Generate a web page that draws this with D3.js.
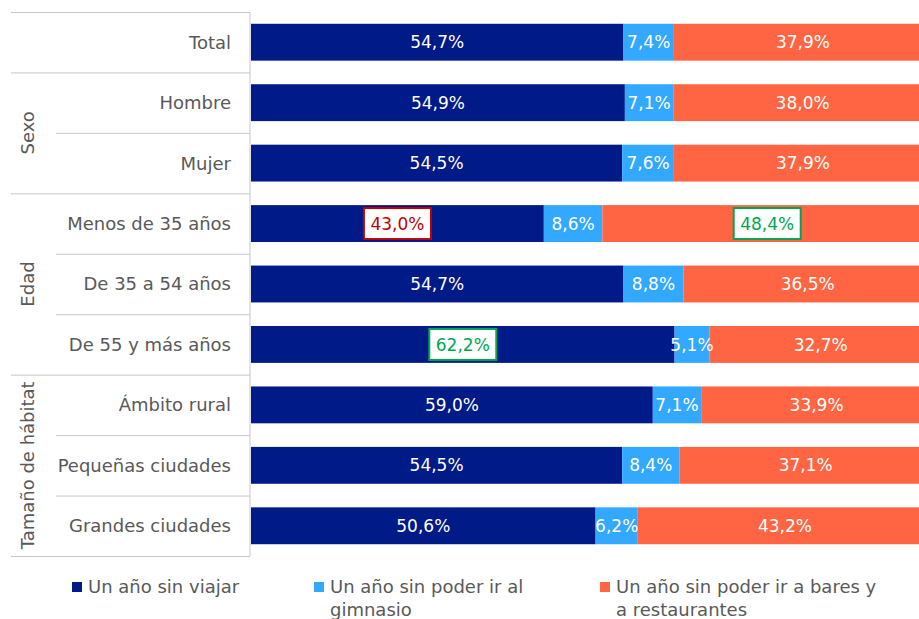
<!DOCTYPE html>
<html><head><meta charset="utf-8">
<script src="https://cdn.jsdelivr.net/npm/d3@7"></script>
<style>body{margin:0;background:#fff}svg{display:block}text{font-family:"DejaVu Sans",Verdana,sans-serif}</style>
</head><body><svg id="c" width="919" height="619"></svg>
<script>
const categories = ["Total","Hombre","Mujer","Menos de 35 años","De 35 a 54 años","De 55 y más años","Ámbito rural","Pequeñas ciudades","Grandes ciudades"];
const groups = [
  {name:"", from:0, to:0},
  {name:"Sexo", from:1, to:2},
  {name:"Edad", from:3, to:5},
  {name:"Tamaño de hábitat", from:6, to:8}
];
const seriesNames = ["Un año sin viajar","Un año sin poder ir al gimnasio","Un año sin poder ir a bares y a restaurantes"];
const viajar = [54.7,54.9,54.5,43.0,54.7,62.2,59.0,54.5,50.6];
const gimnasio = [7.4,7.1,7.6,8.6,8.8,5.1,7.1,8.4,6.2];
const bares = [37.9,38.0,37.9,48.4,36.5,32.7,33.9,37.1,43.2];
// highlighted labels: [seriesIndex, categoryIndex, type]
const highlights = [[0,3,"low"],[2,3,"high"],[0,5,"high"]];
const legendLines = [["Un año sin viajar"],["Un año sin poder ir al","gimnasio"],["Un año sin poder ir a bares y","a restaurantes"]];

const colors = ["#001a87","#33a8ff","#ff6543"];
const svg = d3.select("#c");
const x = d3.scaleLinear().domain([0,100]).range([251,932]);
const y = d3.scaleBand().domain(categories).range([12,556]).paddingInner(0.39).paddingOuter(0.195);
const step = y.step();
const series = [viajar,gimnasio,bares];
const stackData = categories.map((c,i)=>({cat:c, s0:viajar[i], s1:gimnasio[i], s2:bares[i]}));
const stack = d3.stack().keys(["s0","s1","s2"])(stackData);

stack.forEach((layer,si)=>{
  svg.append("g").selectAll("rect").data(layer).join("rect")
    .attr("x",d=>x(d[0])).attr("width",d=>x(d[1])-x(d[0]))
    .attr("y",d=>y(d.data.cat)).attr("height",y.bandwidth())
    .attr("fill",colors[si]);
});

const fmt = v => v.toFixed(1).replace(".",",")+"%";
stack.forEach((layer,si)=>{
  layer.forEach((d,ci)=>{
    const cx = (x(d[0])+Math.min(x(d[1]),932))/2;
    const cy = y(d.data.cat)+y.bandwidth()/2;
    const h = highlights.find(hh=>hh[0]===si&&hh[1]===ci);
    const t = fmt(series[si][ci]);
    if(h){
      const col = h[2]==="low" ? "#c00000" : "#00a651";
      svg.append("rect").attr("x",cx-33.5).attr("y",cy-15.5).attr("width",67).attr("height",31)
        .attr("fill","#fff").attr("stroke",col).attr("stroke-width",2);
      svg.append("text").attr("x",cx).attr("y",cy).attr("dy","0.36em").attr("text-anchor","middle")
        .attr("font-size",17).attr("fill",col).text(t);
    } else {
      svg.append("text").attr("x",cx).attr("y",cy).attr("dy","0.36em").attr("text-anchor","middle")
        .attr("font-size",17).attr("fill","#fff").text(t);
    }
  });
});

// category axis lines
const lineCol = "#c8c8c8";
const axisX = 250;
svg.append("line").attr("x1",axisX).attr("x2",axisX).attr("y1",12).attr("y2",556).attr("stroke",lineCol);
categories.forEach((c,i)=>{
  const top = 12 + i*step;
  const g = groups.find(g=>g.from===i);
  svg.append("line").attr("x1", g ? 11 : 56).attr("x2",axisX).attr("y1",top+0.5).attr("y2",top+0.5).attr("stroke",lineCol);
  svg.append("text").attr("x",231).attr("y",y(c)+y.bandwidth()/2).attr("dy","0.36em")
    .attr("text-anchor","end").attr("font-size",18).attr("fill","#595959").text(c);
});
svg.append("line").attr("x1",11).attr("x2",axisX).attr("y1",556.5).attr("y2",556.5).attr("stroke",lineCol);
groups.filter(g=>g.name).forEach(g=>{
  const cy = 12 + (g.from + g.to + 1)/2*step;
  svg.append("text").attr("transform",`translate(28,${cy}) rotate(-90)`).attr("dy","0.36em")
    .attr("text-anchor","middle").attr("font-size",18).attr("fill","#595959").text(g.name);
});

// legend
const legX = [72,314,600];
legendLines.forEach((lines,i)=>{
  svg.append("rect").attr("x",legX[i]).attr("y",582).attr("width",10).attr("height",10).attr("fill",colors[i]);
  lines.forEach((l,j)=>{
    svg.append("text").attr("x",legX[i]+16).attr("y",593+j*23).attr("font-size",18).attr("fill","#595959").text(l);
  });
});
</script></body></html>
